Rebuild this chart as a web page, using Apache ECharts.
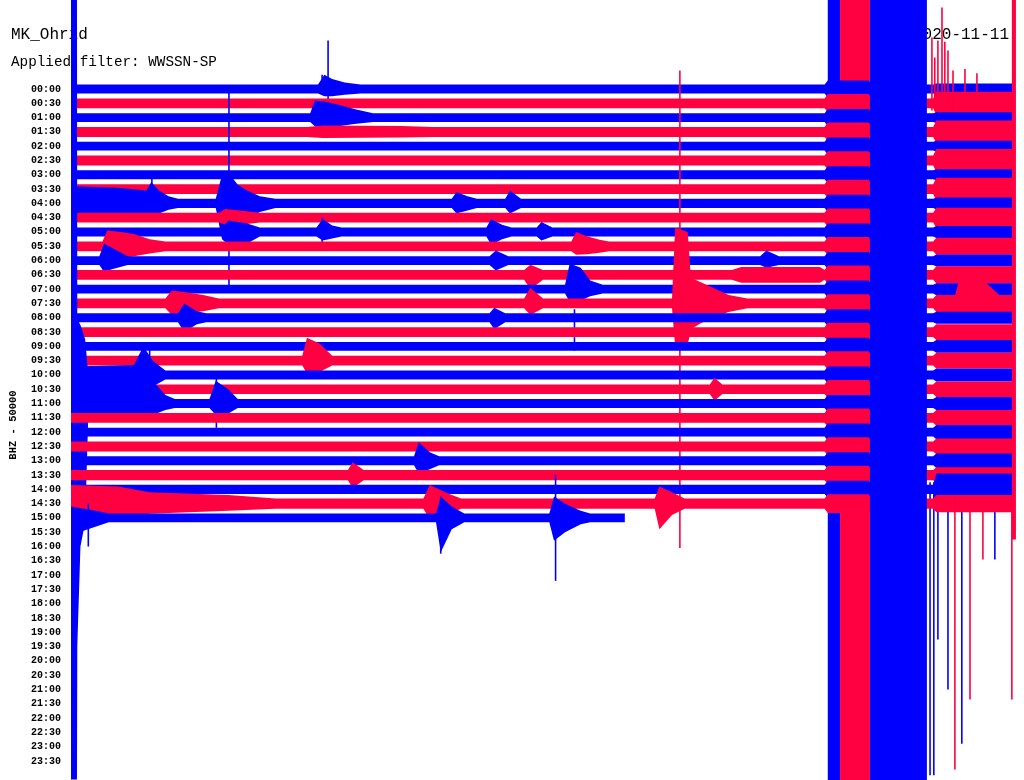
<!DOCTYPE html>
<html><head><meta charset="utf-8">
<script src="https://cdn.jsdelivr.net/npm/echarts@6/dist/echarts.min.js"></script>
<style>html,body{margin:0;padding:0;background:#fff}#c{width:1024px;height:780px}</style>
</head><body><div id="c"></div>
<script>
// ---- data ----
const station = 'MK_Ohrid';
const filterText = 'Applied filter: WWSSN-SP';
const dateText = '2020-11-11';
const channelText = 'BHZ - 50000';
const timeLabels = ['00:00','00:30','01:00','01:30','02:00','02:30','03:00','03:30','04:00','04:30','05:00','05:30','06:00','06:30','07:00','07:30','08:00','08:30','09:00','09:30','10:00','10:30','11:00','11:30','12:00','12:30','13:00','13:30','14:00','14:30','15:00','15:30','16:00','16:30','17:00','17:30','18:00','18:30','19:00','19:30','20:00','20:30','21:00','21:30','22:00','22:30','23:00','23:30'];
const rowMinutes = 30;          // minutes per line
const lastSample = 17.6;        // minute reached in the last (15:00) line
// background noise half-width per line (in line spacings)
const baseAmp = [.31,.34,.31,.35,.31,.35,.31,.34,.32,.34,.31,.34,.31,.34,.31,.34,.31,.34,.31,.34,.31,.34,.31,.34,.31,.35,.31,.36,.32,.36,.31];
// half-width during the strong shaking window (minute 24.0-25.4)
const quakeAmp = [.6,.65,.6,.65,.6,.65,.6,.65,.6,.65,.6,.65,.6,.65,.6,.65,.6,.65,.6,.65,.6,.65,.6,.65,.6,.65,.6,.65,.6,.65];
// half-width in the coda window (minute 27.5-30)
const lateAmp = [.38,.8,.38,.8,.38,.8,.38,.8,.42,.7,.42,.6,.42,.6,.42,.6,.42,.55,.45,.55,.45,.55,.45,.55,.5,.55,.5,.55,1.1,.6];
// envelope key points: [line, minute, up, down]
const events = [
 [0,7.85,.31,.31],[0,8.05,1.0,.5],[0,8.3,.7,.5],[0,8.7,.45,.4],[0,9.2,.31,.31],
 [2,7.6,.31,.31],[2,7.75,1.2,.6],[2,8.1,1.1,.7],[2,8.5,.9,.6],[2,9.0,.6,.45],[2,9.6,.31,.31],
 [3,7.5,.35,.35],[3,8.0,.44,.42],[3,10.5,.42,.4],[3,11.5,.35,.35],
 [8,0,1.2,1.0],[8,1.5,1.1,.9],[8,2.4,.9,.8],[8,2.55,1.5,1.1],[8,2.8,.9,.7],[8,3.1,.5,.45],[8,3.4,.32,.32],[8,4.6,.32,.32],[8,4.8,2.0,2.5],[8,5.05,2.0,3.0],[8,5.3,1.3,1.8],[8,5.6,.9,1.1],[8,6.0,.5,.6],[8,6.5,.32,.32],
 [8,12.1,.32,.32],[8,12.25,.8,.7],[8,12.6,.5,.5],[8,12.9,.32,.32],
 [8,13.8,.32,.32],[8,13.95,.9,.7],[8,14.3,.32,.32],
 [9,4.7,.34,.34],[9,4.9,.6,.5],[9,5.6,.45,.45],[9,6.0,.34,.34],
 [10,4.8,.31,.31],[10,5.0,.8,1.0],[10,5.6,.6,.8],[10,6.0,.31,.31],
 [10,7.8,.31,.31],[10,8.0,.9,.6],[10,8.3,.45,.45],[10,8.6,.31,.31],
 [10,13.2,.31,.31],[10,13.35,.9,.9],[10,13.7,.5,.5],[10,14.0,.31,.31],
 [10,14.8,.31,.31],[10,14.95,.7,.6],[10,15.3,.31,.31],
 [11,1.0,.34,.34],[11,1.15,1.1,.8],[11,1.6,1.0,.8],[11,2.0,.85,.7],[11,2.5,.5,.5],[11,3.0,.34,.34],
 [11,15.9,.34,.34],[11,16.05,1.0,.6],[11,16.4,.7,.55],[11,16.8,.45,.45],[11,17.1,.34,.34],
 [12,0.9,.31,.31],[12,1.05,1.2,.8],[12,1.3,.9,.6],[12,1.8,.31,.31],
 [12,13.3,.31,.31],[12,13.5,.7,.7],[12,13.9,.31,.31],
 [12,21.9,.31,.31],[12,22.1,.7,.5],[12,22.5,.31,.31],
 [13,14.4,.34,.34],[13,14.6,.7,1.0],[13,15.0,.34,.34],
 [13,21.0,.34,.34],[13,21.3,.55,.55],[13,23.8,.55,.55],
 [14,15.7,.31,.31],[14,15.85,1.8,.9],[14,16.2,1.5,.8],[14,16.5,.6,.5],[14,16.9,.31,.31],
 [15,3.0,.34,.34],[15,3.2,.9,.8],[15,3.6,.8,.7],[15,4.2,.6,.55],[15,4.7,.34,.34],
 [15,14.4,.34,.34],[15,14.6,1.1,.8],[15,15.0,.34,.34],
 [15,19.1,.34,.34],[15,19.2,5.3,3.0],[15,19.6,5.0,2.9],[15,19.7,1.8,1.8],[15,20.0,1.5,1.4],[15,20.4,1.1,1.0],[15,20.9,.6,.6],[15,21.5,.34,.34],
 [15,28.1,.6,.6],[15,28.3,2.3,1.2],[15,28.8,2.0,1.1],[15,29.2,1.2,.9],[15,29.5,.6,.6],
 [16,3.4,.31,.31],[16,3.6,1.0,1.0],[16,4.0,.45,.45],[16,4.3,.31,.31],
 [16,13.3,.31,.31],[16,13.45,.7,.8],[16,13.8,.31,.31],
 [19,7.35,.34,.34],[19,7.5,1.6,.9],[19,7.9,1.2,.8],[19,8.3,.34,.34],
 [20,0,.6,1.0],[20,2.0,.7,1.1],[20,2.3,2.0,1.2],[20,2.6,1.0,.8],[20,3.0,.31,.31],
 [21,20.3,.34,.34],[21,20.45,.8,.8],[21,20.7,.34,.34],
 [22,0,28.3,26.3],[22,0.19,28.3,26.3],[22,0.2,5.9,17],[22,0.3,5.5,10],[22,0.45,4.5,8.3],[22,0.55,2.0,.8],[22,1.5,1.8,.7],[22,2.3,2.1,1.0],[22,2.6,1.6,.8],[22,3.0,.6,.45],[22,3.3,.31,.31],
 [22,4.4,.31,.31],[22,4.6,1.6,.8],[22,5.0,1.0,.7],[22,5.3,.31,.31],
 [26,10.9,.31,.31],[26,11.05,1.3,.9],[26,11.4,.6,.6],[26,11.7,.31,.31],
 [27,8.8,.36,.36],[27,8.95,.9,.9],[27,9.3,.36,.36],
 [29,0,1.3,1.1],[29,1.5,1.2,.9],[29,2.5,.8,.7],[29,5.0,.6,.5],[29,6.5,.36,.36],
 [29,11.2,.36,.36],[29,11.4,1.3,1.1],[29,12.0,.7,.7],[29,12.4,.36,.36],
 [29,18.55,.36,.36],[29,18.7,1.2,1.8],[29,19.1,.8,.8],[29,19.5,.36,.36],
 [30,0,.8,1.2],[30,0.8,.5,.6],[30,1.2,.31,.31],
 [30,11.6,.31,.31],[30,11.75,1.5,2.4],[30,12.1,.8,.8],[30,12.5,.31,.31],
 [30,15.2,.31,.31],[30,15.35,1.5,1.6],[30,15.7,1.0,1.0],[30,16.2,.5,.45],[30,16.5,.31,.31]
];
// single large excursions: [line, minute, up, down]
const spikes = [
 [0,8.17,3.4,1.0],[0,7.98,1.0,.4],
 [1,27.36,4.6,.5],[1,27.45,3.2,.5],[1,27.55,4.4,.5],[1,27.68,6.7,.5],[1,27.77,4.3,.5],[1,27.87,3.7,.5],[1,28.03,2.3,.5],[1,28.41,2.4,.5],[1,28.79,2.1,.5],
 [8,5.02,8.0,6.2],[8,2.57,1.8,1.3],
 [10,7.98,1.0,.7],
 [15,19.35,16.3,17.1],
 [16,16.0,.6,2.3],
 [20,2.5,2.0,2.6],
 [22,4.62,1.8,1.7],
 [28,27.3,.5,20],[28,27.42,.5,20],
 [28,27.55,.5,10.5],[28,27.87,.5,14.0],[28,28.31,.5,17.8],[28,29.36,.5,4.9],
 [29,28.09,.5,18.6],[29,28.57,.5,13.7],[29,29.9,.5,13.7],[29,28.98,.5,3.9],
 [30,11.75,1.5,2.5],[30,15.4,3.0,4.4],[30,0.55,1.0,2.0]
];
// clipped (saturated) stretches: [line, fromMinute, toMinute, up, down]
const underBlocks = [[0,24.05,24.44,6.5,48.5],[1,24.44,25.39,7.5,47.5]];
const overBlocks = [[0,25.39,27.2,6.5,48.5],[1,29.9,30.03,7.5,30.5]];

// ---- chart ----
const colors = ['#0000ff', '#ff0040'];
const nRows = baseAmp.length;
function envelope(r) {
  const b = baseAmp[r];
  const end = r === nRows - 1 ? lastSample : rowMinutes;
  let pts = [[0, b, b]];
  events.filter(e => e[0] === r).forEach(e => pts.push([e[1], e[2], e[3]]));
  if (r < quakeAmp.length) {
    const q = quakeAmp[r], l = lateAmp[r];
    pts.push([23.95, b, b], [24.05, q, q], [25.35, q, q], [25.45, b, b], [27.4, b, b], [27.5, l, l], [rowMinutes, l, l]);
  }
  pts.push([end, b, b]);
  pts = pts.map((p, i) => [p, i]).sort((a, c) => a[0][0] - c[0][0] || a[1] - c[1]).map(x => x[0]);
  return pts;
}
const envs = [];
for (let r = 0; r < nRows; r++) envs.push(envelope(r));

function renderRow(params, api) {
  const r = api.value(0);
  const col = colors[r % 2];
  const pts = envs[r];
  const top = pts.map(p => api.coord([p[0], r - p[1]]));
  const bot = pts.slice().reverse().map(p => api.coord([p[0], r + p[2]]));
  const children = [{ type: 'polygon', shape: { points: top.concat(bot) }, style: { fill: col } }];
  spikes.filter(s => s[0] === r).forEach(s => {
    const a = api.coord([s[1], r - s[2]]), c = api.coord([s[1], r + s[3]]);
    children.push({ type: 'line', shape: { x1: a[0], y1: a[1], x2: c[0], y2: c[1] }, style: { stroke: col, lineWidth: 1.6 } });
  });
  return { type: 'group', children };
}
function renderBlock(params, api) {
  const r = api.value(0);
  const a = api.coord([api.value(1), r - api.value(3)]);
  const c = api.coord([api.value(2), r + api.value(4)]);
  return { type: 'rect', shape: { x: a[0], y: a[1], width: c[0] - a[0], height: c[1] - a[1] }, style: { fill: colors[r % 2] } };
}

const chart = echarts.init(document.getElementById('c'), null, { renderer: 'canvas' });
const rowIdx = [];
for (let r = 0; r < nRows; r++) rowIdx.push([r]);
const mono = '"Liberation Mono", "DejaVu Sans Mono", monospace';
chart.setOption({
  animation: false,
  backgroundColor: '#ffffff',
  title: [
    { text: station, left: 6, top: 22, z: 0, textStyle: { fontFamily: mono, fontSize: 16, fontWeight: 'normal', color: '#000' } },
    { text: filterText, left: 6, top: 50, z: 0, textStyle: { fontFamily: mono, fontSize: 14.3, fontWeight: 'normal', color: '#000' } },
    { text: dateText, right: 10, top: 22, z: 0, textStyle: { fontFamily: mono, fontSize: 16, fontWeight: 'normal', color: '#000' } }
  ],
  grid: { left: 71, right: 9, top: 89, bottom: 19, containLabel: false, outerBoundsMode: 'none' },
  xAxis: { type: 'value', min: 0, max: rowMinutes, show: false },
  yAxis: {
    type: 'value', inverse: true, min: 0, max: timeLabels.length - 1, interval: 1,
    axisLine: { show: false }, axisTick: { show: false }, splitLine: { show: false },
    axisLabel: { formatter: v => timeLabels[v] || '', fontFamily: mono, fontWeight: 'bold', fontSize: 10, color: '#000', margin: 10 },
    name: channelText, nameLocation: 'middle', nameRotate: 90, nameGap: 52,
    nameTextStyle: { fontFamily: mono, fontWeight: 'bold', fontSize: 10.5, color: '#000' }
  },
  series: [
    { type: 'custom', z: 1, clip: false, renderItem: renderBlock, data: underBlocks },
    { type: 'custom', z: 2, clip: false, renderItem: renderRow, data: rowIdx },
    { type: 'custom', z: 3, clip: false, renderItem: renderBlock, data: overBlocks }
  ]
});
</script></body></html>
